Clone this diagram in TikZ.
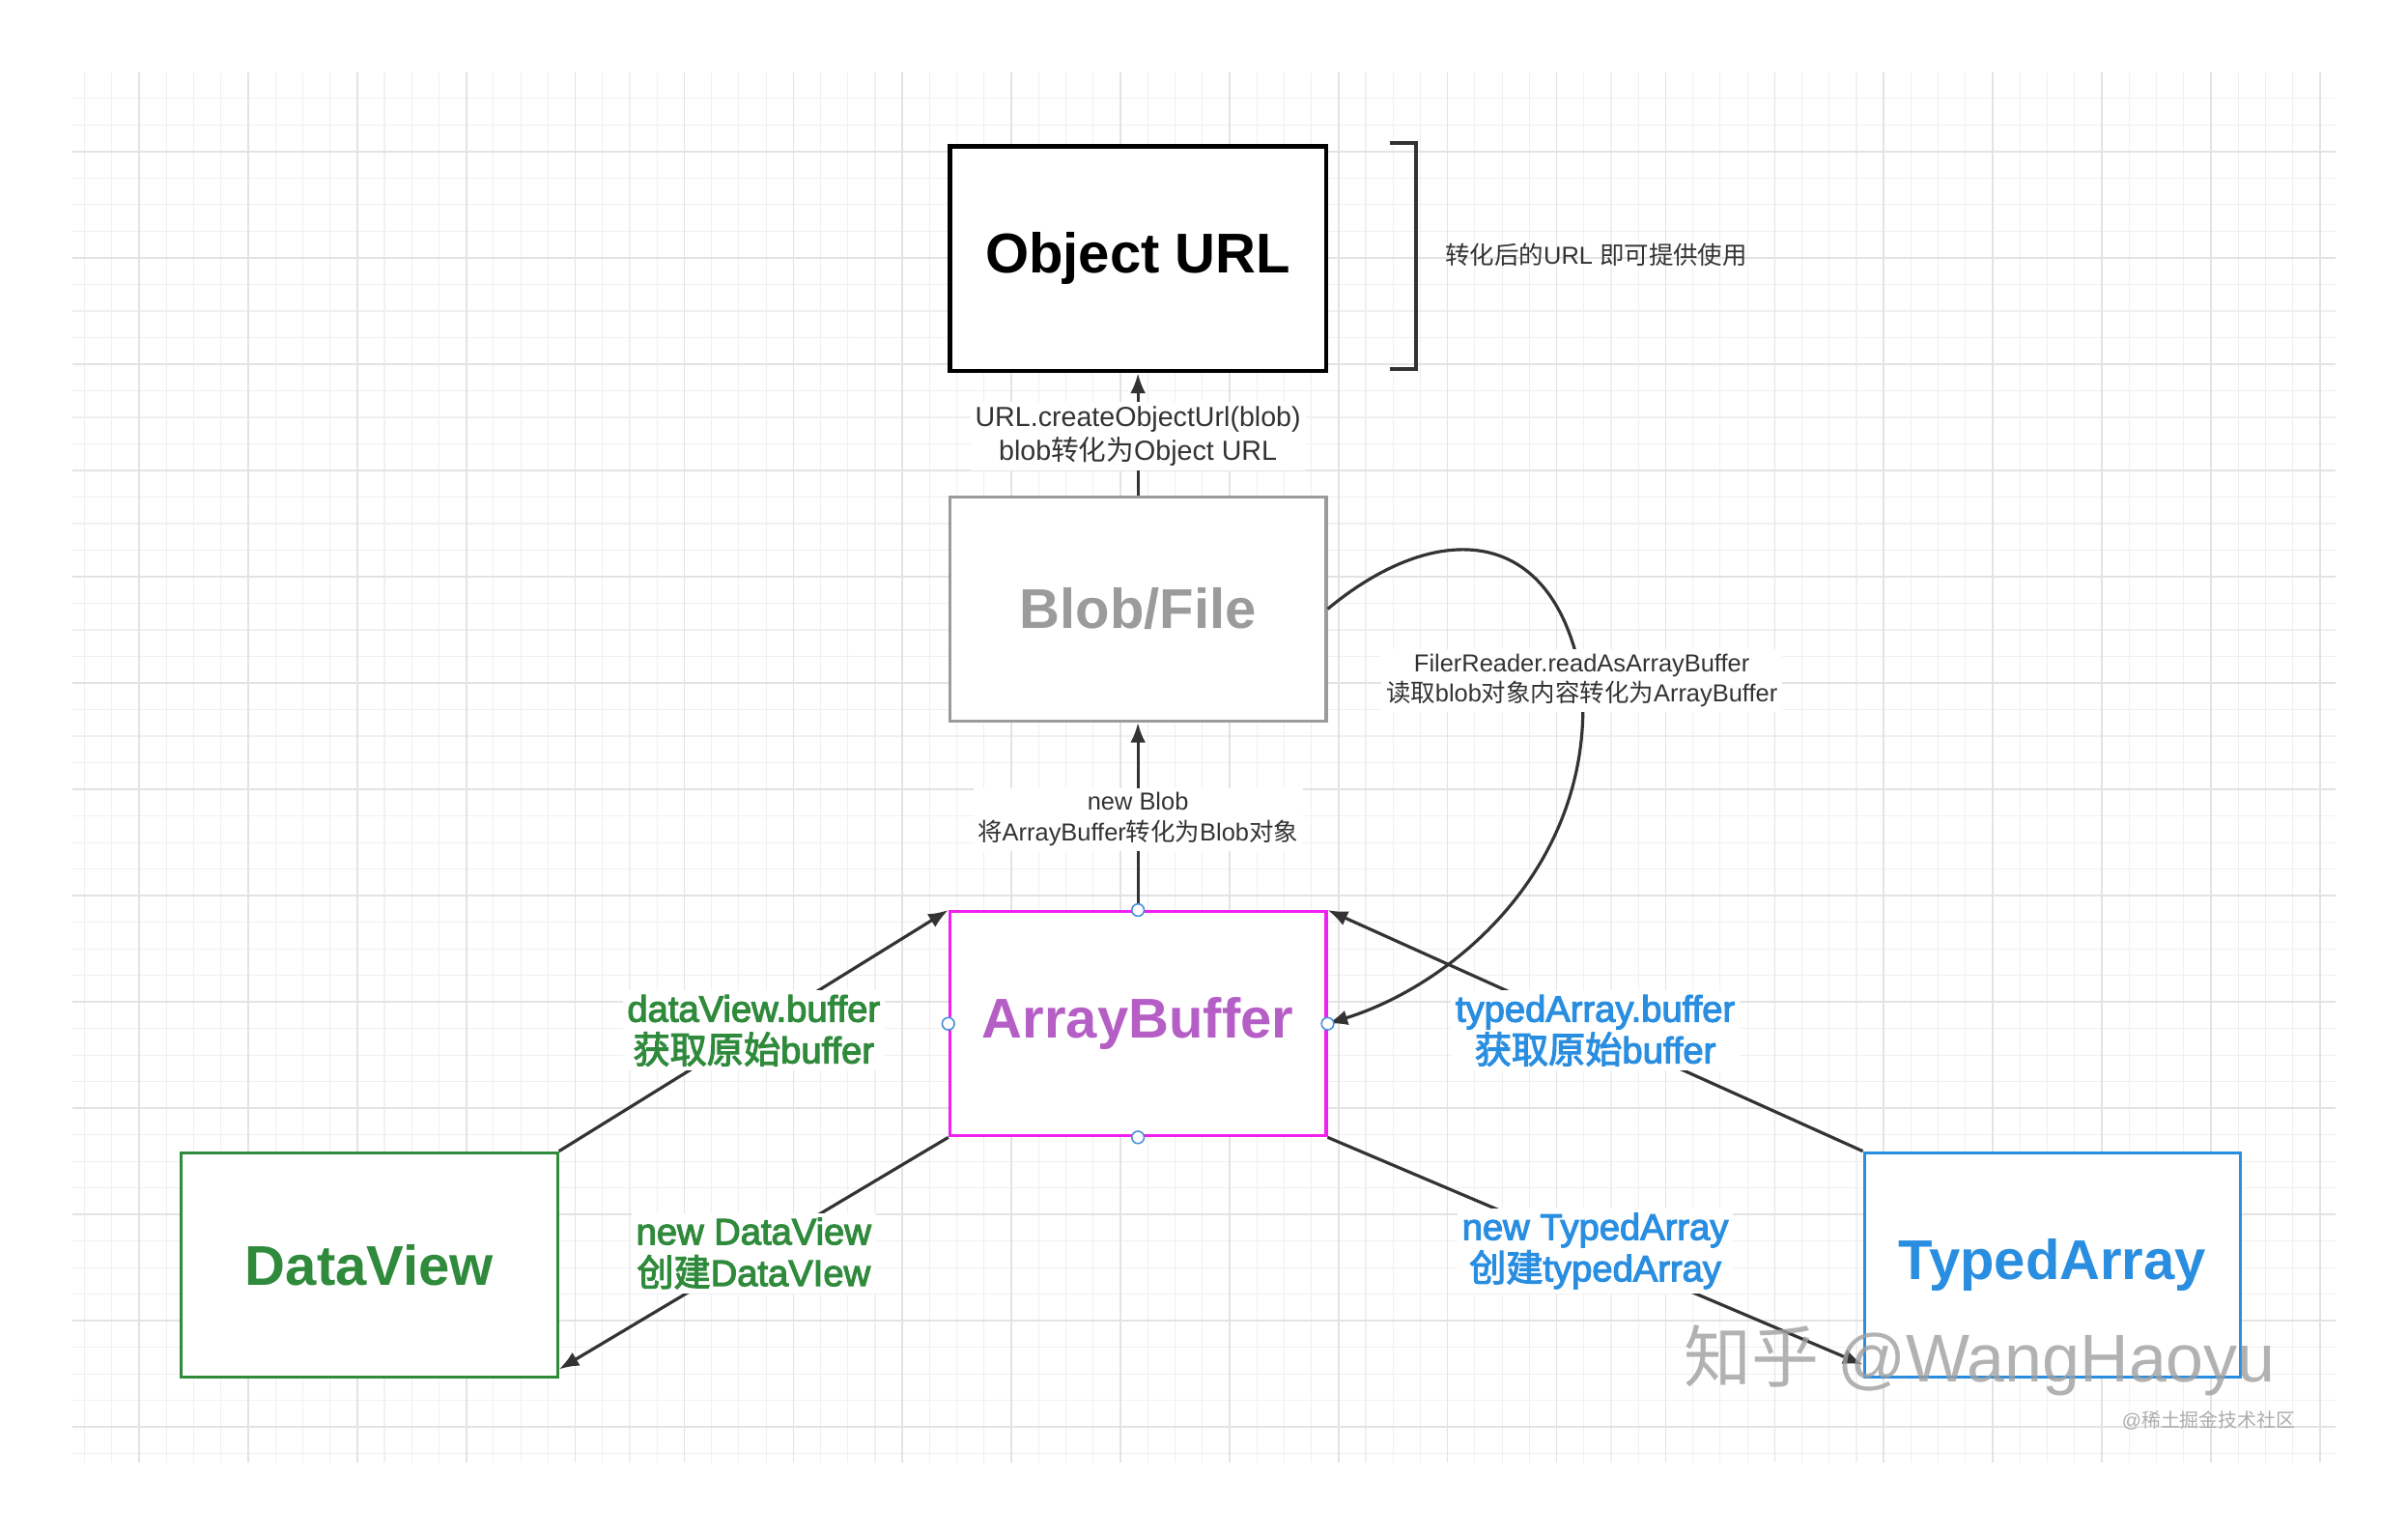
\documentclass[tikz,border=0pt]{standalone}
\usepackage{fontspec}
\setmainfont{Liberation Sans}
\newfontfamily\cjk{Noto Sans CJK SC}
\newfontfamily\med[FakeBold=3]{Liberation Sans}
\newfontfamily\cjkmed[FakeBold=3]{Noto Sans CJK SC}
\let\zhfont\cjk
\newcommand\zh[1]{{\zhfont #1}}
\usetikzlibrary{arrows.meta}
\definecolor{gridminor}{HTML}{F0F0F0}
\definecolor{gridmajor}{HTML}{E3E3E3}
\definecolor{abpink}{HTML}{F020F0}
\definecolor{abtext}{HTML}{B55EC6}
\definecolor{dvgreen}{HTML}{2F8A3C}
\definecolor{tablue}{HTML}{2A8EE0}
\definecolor{blobgray}{HTML}{9B9B9B}
\definecolor{txt}{HTML}{333333}
\definecolor{dotblue}{HTML}{4A90D9}
\begin{document}
\begin{tikzpicture}[x=1pt,y=1pt,
  box/.style={draw, line width=2pt, minimum width=245pt, minimum height=146pt, inner sep=0pt, fill=white, font=\fontsize{36.5}{40}\selectfont\bfseries},
  arr/.style={draw=txt, line width=2pt, -{Latex[length=13pt,width=10pt]}},
  lbl/.style={fill=white, inner sep=3pt, align=center, font=\fontsize{16}{20}\selectfont, text=txt},
  elbl/.style={fill=white, inner sep=3pt, align=center, font=\fontsize{24}{27}\selectfont\med\let\zhfont\cjkmed},
  dot/.style={circle, draw=dotblue, fill=white, line width=1pt, inner sep=0pt, minimum size=8pt}
]
\useasboundingbox (0,0) rectangle (1568,-1000);
\fill[white] (0,0) rectangle (1568,-1000);
% grid
\begin{scope}
\clip (47,-47) rectangle (1521,-952);
\foreach \i in {0,...,83} { \draw[gridminor, line width=0.7pt] ({55.1+17.75*\i},-47) -- ++(0,-905); }
\foreach \i in {0,...,52} { \draw[gridminor, line width=0.7pt] (47,{-64.1-17.3*\i}) -- ++(1474,0); }
\foreach \i in {0,...,20} { \draw[gridmajor, line width=1pt] ({90.6+71*\i},-47) -- ++(0,-905); }
\foreach \i in {0,...,12} { \draw[gridmajor, line width=1pt] (47,{-98.7-69.2*\i}) -- ++(1474,0); }
\end{scope}
% boxes
\node[box, draw=black, line width=3pt, text=black] (url) at (741,-168.5) {Object URL};
\node[box, draw=blobgray, text=blobgray] (blob) at (741,-396.5) {Blob/File};
\node[box, draw=abpink, text=abtext] (ab) at (741,-666.5) {ArrayBuffer};
\node[box, draw=dvgreen, text=dvgreen] (dv) at (240.5,-823.5) {DataView};
\node[box, draw=tablue, text=tablue] (ta) at (1336.5,-823.5) {TypedArray};
% bracket and note
\draw[line width=2.5pt, txt] (905,-93) -- (922,-93) -- (922,-240) -- (905,-240);
\node[lbl, fill=none, anchor=west] (note) at (938,-166) {\zh{转化后的}URL \zh{即可提供使用}};
% connectors
\draw[arr] (blob.north) -- (url.south) node[lbl, midway, yshift=-1pt, font=\fontsize{18}{22}\selectfont] {URL.createObjectUrl(blob)\\blob\zh{转化为}Object URL};
\draw[arr] (ab.north) -- (blob.south) node[lbl, midway, yshift=-2pt] {new Blob\\\zh{将}ArrayBuffer\zh{转化为}Blob\zh{对象}};
\draw[arr] (blob.east) .. controls (935,-338) and (1012,-340) .. (1030,-443)
  node[lbl] (fr) {FilerReader.readAsArrayBuffer\\\zh{读取}blob\zh{对象内容转化为}ArrayBuffer}
  .. controls (1040,-560) and (950,-640) .. (ab.east);
\draw[arr] (dv.north east) -- (ab.north west) node[elbl, midway, text=dvgreen] {dataView.buffer\\\zh{获取原始}buffer};
\draw[arr] (ab.south west) -- ([yshift=6pt]dv.south east) node[elbl, midway, text=dvgreen] {new DataView\\\zh{创建}DataVIew};
\draw[arr] (ta.north west) -- (ab.north east) node[elbl, midway, text=tablue] {typedArray.buffer\\\zh{获取原始}buffer};
\draw[arr] (ab.south east) -- ([yshift=9pt]ta.south west) node[elbl, midway, text=tablue] {new TypedArray\\\zh{创建}typedArray};
% connection dots
\node[dot] (dn) at (ab.north) {};
\node[dot] (ds) at (ab.south) {};
\node[dot] (dw) at (ab.west) {};
\node[dot] (de) at (ab.east) {};
% watermark
\node[text=gray!75, opacity=0.8, font=\fontsize{44}{48}\selectfont] (wm) at (1289,-886) {\zh{知乎} @WangHaoyu};
\node[text=gray!65, font=\fontsize{12.5}{14}\selectfont, anchor=east] (wm2) at (1498,-925) {@\zh{稀土掘金技术社区}};
\end{tikzpicture}
\end{document}
